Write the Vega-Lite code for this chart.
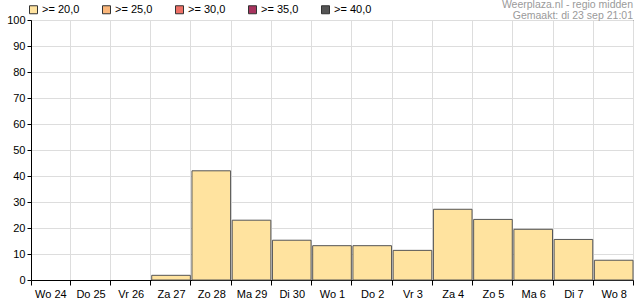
{
  "$schema": "https://vega.github.io/schema/vega-lite/v6.json",
  "width": 602,
  "height": 260,
  "autosize": {"type": "none"},
  "padding": {"left": 31, "top": 20, "right": 2, "bottom": 20},
  "background": "white",
  "title": {
    "text": ["Weerplaza.nl - regio midden", "Gemaakt: di 23 sep 21:01"],
    "anchor": "end",
    "frame": "group",
    "fontSize": 10.5,
    "fontWeight": "normal",
    "color": "#9a9a9a",
    "font": "Liberation Sans",
    "lineHeight": 10.5,
    "offset": 2,
    "dy": 29,
    "baseline": "bottom"
  },
  "config": {
    "font": "Liberation Sans",
    "view": {"stroke": "#000000", "strokeWidth": 1}
  },
  "data": {
    "values": [
      {"dag": "Wo 24", "waarde": 0, "klasse": ">= 20,0"},
      {"dag": "Do 25", "waarde": 0, "klasse": ">= 20,0"},
      {"dag": "Vr 26", "waarde": 0, "klasse": ">= 20,0"},
      {"dag": "Za 27", "waarde": 1.8, "klasse": ">= 20,0"},
      {"dag": "Zo 28", "waarde": 42, "klasse": ">= 20,0"},
      {"dag": "Ma 29", "waarde": 23, "klasse": ">= 20,0"},
      {"dag": "Di 30", "waarde": 15.3, "klasse": ">= 20,0"},
      {"dag": "Wo 1", "waarde": 13.2, "klasse": ">= 20,0"},
      {"dag": "Do 2", "waarde": 13.2, "klasse": ">= 20,0"},
      {"dag": "Vr 3", "waarde": 11.4, "klasse": ">= 20,0"},
      {"dag": "Za 4", "waarde": 27.2, "klasse": ">= 20,0"},
      {"dag": "Zo 5", "waarde": 23.3, "klasse": ">= 20,0"},
      {"dag": "Ma 6", "waarde": 19.5, "klasse": ">= 20,0"},
      {"dag": "Di 7", "waarde": 15.6, "klasse": ">= 20,0"},
      {"dag": "Wo 8", "waarde": 7.6, "klasse": ">= 20,0"}
    ]
  },
  "mark": {"type": "bar", "stroke": "#555555", "strokeWidth": 1},
  "encoding": {
    "x": {
      "field": "dag",
      "type": "nominal",
      "sort": null,
      "scale": {"paddingInner": 0.04, "paddingOuter": 0},
      "axis": {
        "title": null,
        "labelAngle": 0,
        "tickBand": "extent",
        "domainColor": "#000000",
        "tickColor": "#000000",
        "labelColor": "#000000",
        "labelFontSize": 11,
        "labelPadding": 3,
        "tickSize": 5,
        "grid": true,
        "gridColor": "#dddddd"
      }
    },
    "y": {
      "field": "waarde",
      "type": "quantitative",
      "scale": {"domain": [0, 100], "nice": false},
      "axis": {
        "title": null,
        "values": [0, 10, 20, 30, 40, 50, 60, 70, 80, 90, 100],
        "domainColor": "#000000",
        "tickColor": "#000000",
        "labelColor": "#000000",
        "labelFontSize": 11,
        "labelPadding": 2,
        "tickSize": 4,
        "gridColor": "#dddddd"
      }
    },
    "opacity": {
      "condition": {"test": "datum.waarde > 0", "value": 1},
      "value": 0
    },
    "color": {
      "field": "klasse",
      "type": "nominal",
      "scale": {
        "domain": [">= 20,0", ">= 25,0", ">= 30,0", ">= 35,0", ">= 40,0"],
        "range": ["#ffe39f", "#fbb77b", "#ee7066", "#a8335e", "#555555"]
      },
      "legend": {
        "orient": "none",
        "legendX": -3,
        "legendY": -16,
        "direction": "horizontal",
        "columns": 5,
        "title": null,
        "symbolType": "square",
        "symbolSize": 64,
        "symbolStrokeColor": "#333333",
        "symbolStrokeWidth": 1,
        "symbolOpacity": 1,
        "labelFontSize": 11,
        "labelColor": "#000000",
        "labelOffset": 3,
        "columnPadding": 20
      }
    }
  }
}
